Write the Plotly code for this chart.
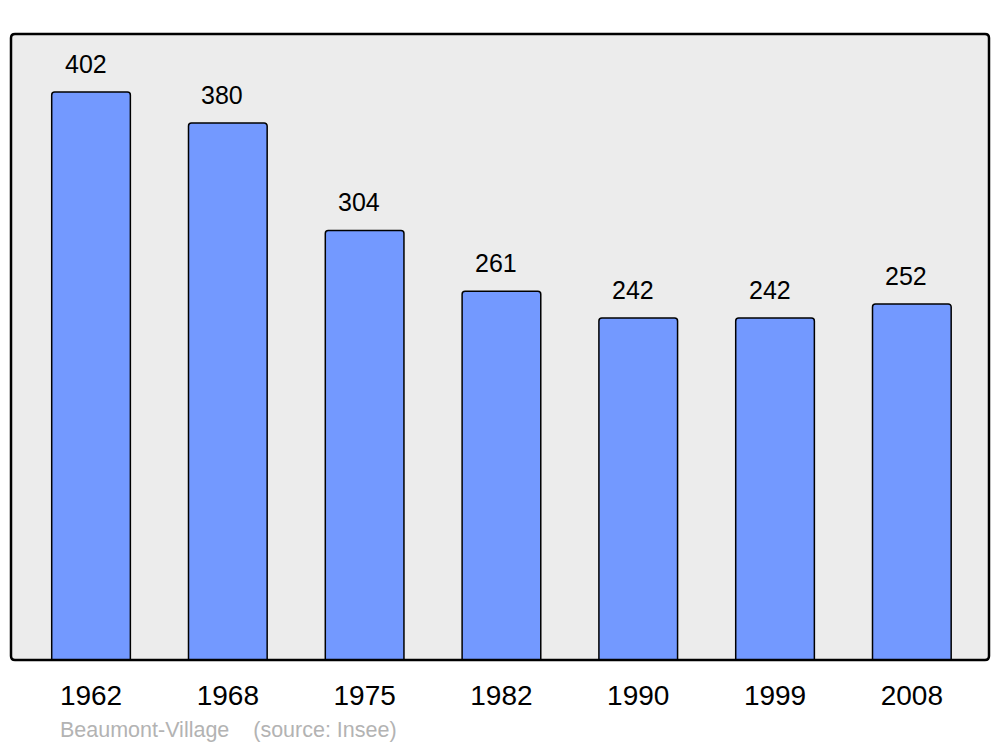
import plotly.graph_objects as go

years = ["1962", "1968", "1975", "1982", "1990", "1999", "2008"]
population = [402, 380, 304, 261, 242, 242, 252]
footer = "Beaumont-Village    (source: Insee)"

positions = list(range(len(years)))

fig = go.Figure()
fig.add_trace(go.Bar(
    x=positions,
    y=population,
    width=0.575,
    marker=dict(color="#7399ff", line=dict(color="black", width=1.5), cornerradius=3),
    hoverinfo="skip",
))

for i, v in zip(positions, population):
    fig.add_annotation(x=i - 0.04, y=v, text=str(v), showarrow=False,
                       yanchor="middle", yshift=28,
                       font=dict(size=25, color="black"))


def rounded_rect(rx, ry):
    return (f"M {rx},0 L {1 - rx},0 Q 1,0 1,{ry} L 1,{1 - ry} Q 1,1 {1 - rx},1 "
            f"L {rx},1 Q 0,1 0,{1 - ry} L 0,{ry} Q 0,0 {rx},0 Z")


path = rounded_rect(4 / 978, 4 / 626)
fig.add_shape(type="path", path=path, xref="paper", yref="paper",
              fillcolor="#ececec", line=dict(width=0), layer="below")
fig.add_shape(type="path", path=path, xref="paper", yref="paper",
              fillcolor="rgba(0,0,0,0)", line=dict(color="black", width=2.5), layer="above")

# footer, positioned relative to the plot frame (pixels -> paper)
fig.add_annotation(x=(58 - 11) / 978, y=(660 - 730) / 626, xref="paper", yref="paper",
                   text=footer, showarrow=False, xanchor="left", yanchor="middle",
                   font=dict(size=21.5, color="#b3b3b3"))

# page body has an 8px margin, so the figure is shifted by 8px
fig.update_layout(
    width=992, height=739,
    margin=dict(l=3, r=11, t=26, b=87),
    paper_bgcolor="white",
    plot_bgcolor="rgba(0,0,0,0)",
    showlegend=False,
    font=dict(family="Liberation Sans, Arial, sans-serif", color="black"),
    xaxis=dict(range=[-0.585, 6.564], tickvals=positions, ticktext=years,
               showgrid=False, zeroline=False, showline=False, ticks="",
               tickfont=dict(size=28), ticklabelstandoff=16),
    yaxis=dict(range=[0, 443], showgrid=False, zeroline=False,
               showticklabels=False, showline=False, ticks=""),
)

fig.write_html("out.html")
